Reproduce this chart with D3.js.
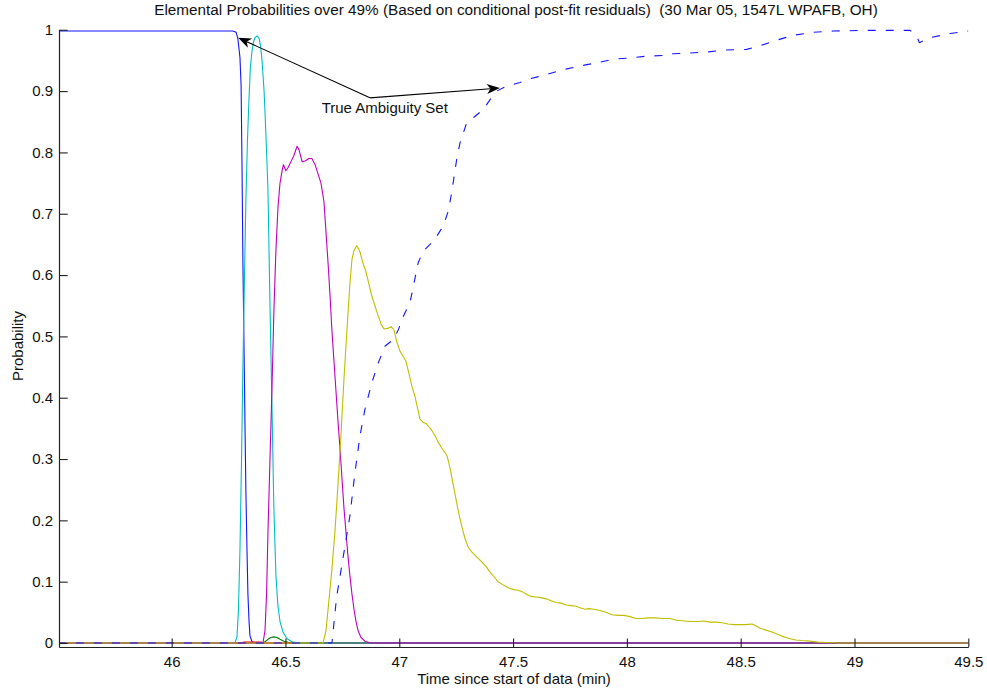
<!DOCTYPE html>
<html><head><meta charset="utf-8">
<script src="https://cdn.jsdelivr.net/npm/d3@7"></script>
<style>
body{margin:0;background:#fff;}
svg{display:block;font-family:"Liberation Sans",Arial,Helvetica,sans-serif;}
text{white-space:pre;}
</style>
</head><body><svg id="chart" width="987" height="691"></svg>
<script>
// ---------------- DATA ----------------
const chartTitle = "Elemental Probabilities over 49% (Based on conditional post-fit residuals)  (30 Mar 05, 1547L WPAFB, OH)";
const xAxisTitle = "Time since start of data (min)";
const yAxisTitle = "Probability";
const xTickValues = [46, 46.5, 47, 47.5, 48, 48.5, 49, 49.5];
const xTickLabels = ["46", "46.5", "47", "47.5", "48", "48.5", "49", "49.5"];
const yTickValues = [0, 0.1, 0.2, 0.3, 0.4, 0.5, 0.6, 0.7, 0.8, 0.9, 1];
const yTickLabels = ["0", "0.1", "0.2", "0.3", "0.4", "0.5", "0.6", "0.7", "0.8", "0.9", "1"];

// set 1 (blue, solid)
const set1T = [45.5, 46.269, 46.283, 46.291, 46.300, 46.305, 46.309, 46.313, 46.318, 46.322, 46.326, 46.331, 46.335, 46.340, 46.344, 46.353, 46.37, 49.5];
const set1P = [0.998, 0.998, 0.996, 0.985, 0.955, 0.91, 0.78, 0.62, 0.48, 0.36, 0.25, 0.15, 0.08, 0.035, 0.012, 0.002, 0, 0];
// set 2 (green)
const set2T = [45.5, 46.397, 46.410, 46.423, 46.436, 46.449, 46.463, 46.476, 46.493, 46.511, 46.529, 49.5];
const set2P = [0, 0, 0.002, 0.006, 0.009, 0.010, 0.009, 0.006, 0.003, 0.001, 0, 0];
// set 3 (red)
const set3T = [45.5, 46.31, 46.315, 46.395, 46.40, 49.5];
const set3P = [0, 0, 0.0015, 0.0015, 0, 0];
// set 4 (cyan)
const set4T = [45.5, 46.278, 46.287, 46.293, 46.300, 46.307, 46.313, 46.320, 46.326, 46.333, 46.340, 46.346, 46.353, 46.359, 46.366, 46.375, 46.384, 46.390, 46.397, 46.406, 46.414, 46.423, 46.432, 46.441, 46.449, 46.458, 46.467, 46.476, 46.489, 46.507, 46.529, 46.555, 49.5];
const set4P = [0, 0, 0.01, 0.05, 0.15, 0.30, 0.45, 0.60, 0.72, 0.82, 0.89, 0.94, 0.965, 0.98, 0.987, 0.99, 0.986, 0.975, 0.95, 0.90, 0.83, 0.74, 0.55, 0.38, 0.22, 0.11, 0.06, 0.035, 0.018, 0.007, 0.002, 0, 0];
// set 5 (magenta)
const set5T = [45.5, 46.401, 46.410, 46.417, 46.423, 46.432, 46.441, 46.449, 46.458, 46.467, 46.476, 46.485, 46.491, 46.502, 46.511, 46.524, 46.537, 46.551, 46.559, 46.573, 46.586, 46.603, 46.616, 46.630, 46.643, 46.656, 46.669, 46.678, 46.687, 46.696, 46.704, 46.713, 46.722, 46.731, 46.739, 46.748, 46.757, 46.766, 46.775, 46.783, 46.792, 46.801, 46.810, 46.819, 46.832, 46.849, 46.871, 46.893, 49.5];
const set5P = [0, 0, 0.02, 0.08, 0.18, 0.30, 0.42, 0.54, 0.64, 0.71, 0.75, 0.77, 0.78, 0.77, 0.775, 0.785, 0.795, 0.81, 0.805, 0.785, 0.786, 0.79, 0.79, 0.78, 0.765, 0.75, 0.72, 0.67, 0.62, 0.565, 0.51, 0.46, 0.41, 0.36, 0.32, 0.27, 0.22, 0.18, 0.14, 0.11, 0.08, 0.055, 0.035, 0.02, 0.009, 0.003, 0.0005, 0, 0];
// set 6 (yellow)
const set6T = [45.5, 46.665, 46.678, 46.691, 46.704, 46.717, 46.731, 46.744, 46.757, 46.770, 46.783, 46.792, 46.801, 46.814, 46.827, 46.840, 46.854, 46.867, 46.880, 46.893, 46.906, 46.920, 46.933, 46.950, 46.964, 46.977, 46.990, 47.003, 47.016, 47.029, 47.042, 47.056, 47.069, 47.082, 47.091, 47.104, 47.117, 47.130, 47.144, 47.157, 47.170, 47.183, 47.196, 47.210, 47.223, 47.236, 47.249, 47.262, 47.276, 47.289, 47.302, 47.315, 47.328, 47.341, 47.355, 47.368, 47.381, 47.394, 47.407, 47.421, 47.434, 47.451, 47.469, 47.486, 47.504, 47.522, 47.543, 47.561, 47.579, 47.601, 47.623, 47.645, 47.667, 47.689, 47.711, 47.733, 47.754, 47.776, 47.798, 47.816, 47.833, 47.855, 47.882, 47.908, 47.934, 47.961, 47.987, 48.014, 48.040, 48.066, 48.093, 48.124, 48.154, 48.189, 48.220, 48.251, 48.282, 48.312, 48.339, 48.365, 48.392, 48.418, 48.444, 48.471, 48.497, 48.523, 48.550, 48.567, 48.585, 48.611, 48.638, 48.664, 48.690, 48.717, 48.743, 48.769, 48.804, 48.839, 48.875, 48.910, 48.936, 49.5];
const set6P = [0, 0, 0.02, 0.07, 0.12, 0.18, 0.26, 0.34, 0.43, 0.51, 0.585, 0.625, 0.64, 0.648, 0.638, 0.62, 0.605, 0.585, 0.565, 0.55, 0.535, 0.52, 0.512, 0.513, 0.516, 0.51, 0.49, 0.476, 0.468, 0.46, 0.44, 0.418, 0.402, 0.38, 0.365, 0.36, 0.358, 0.353, 0.346, 0.338, 0.328, 0.32, 0.313, 0.305, 0.285, 0.26, 0.235, 0.21, 0.188, 0.17, 0.157, 0.15, 0.145, 0.14, 0.135, 0.13, 0.125, 0.118, 0.112, 0.106, 0.1, 0.096, 0.092, 0.089, 0.087, 0.086, 0.083, 0.079, 0.076, 0.075, 0.074, 0.072, 0.069, 0.066, 0.065, 0.062, 0.061, 0.06, 0.057, 0.055, 0.056, 0.055, 0.053, 0.05, 0.046, 0.045, 0.045, 0.043, 0.04, 0.04, 0.041, 0.041, 0.04, 0.04, 0.037, 0.036, 0.035, 0.035, 0.036, 0.034, 0.034, 0.033, 0.031, 0.03, 0.03, 0.03, 0.031, 0.028, 0.024, 0.021, 0.018, 0.014, 0.01, 0.007, 0.005, 0.004, 0.003, 0.0015, 0.0008, 0.0003, 0, 0];
// true ambiguity set (blue, dashed)
const trueT = [45.5, 46.704, 46.725, 46.754, 46.783, 46.805, 46.827, 46.849, 46.879, 46.908, 46.937, 46.974, 46.996, 47.018, 47.047, 47.062, 47.083, 47.105, 47.149, 47.164, 47.193, 47.215, 47.230, 47.252, 47.267, 47.296, 47.333, 47.369, 47.399, 47.428, 47.472, 47.530, 47.574, 47.648, 47.721, 47.794, 47.867, 47.940, 48.014, 48.087, 48.160, 48.204, 48.277, 48.358, 48.438, 48.526, 48.585, 48.658, 48.731, 48.819, 48.907, 49.054, 49.244, 49.273, 49.285, 49.332, 49.420, 49.5];
const trueP = [0, 0, 0.076, 0.141, 0.207, 0.277, 0.337, 0.381, 0.424, 0.457, 0.484, 0.495, 0.511, 0.533, 0.555, 0.582, 0.62, 0.639, 0.655, 0.663, 0.68, 0.704, 0.734, 0.788, 0.816, 0.848, 0.859, 0.87, 0.886, 0.9, 0.908, 0.914, 0.92, 0.927, 0.935, 0.941, 0.946, 0.952, 0.954, 0.957, 0.958, 0.961, 0.962, 0.964, 0.967, 0.968, 0.974, 0.983, 0.991, 0.996, 0.998, 0.999, 0.999, 0.99, 0.979, 0.987, 0.994, 0.998];

const seriesNames = ["set1", "set2", "set3", "set4", "set5", "set6", "trueSet"];
const seriesTimes = [set1T, set2T, set3T, set4T, set5T, set6T, trueT];
const seriesProbs = [set1P, set2P, set3P, set4P, set5P, set6P, trueP];
const seriesColors = ["#1414ff", "#008000", "#ff0000", "#00bfbf", "#bf00bf", "#bfbf00", "#1414ff"];
const seriesDashed = [false, false, false, false, false, false, true];

// annotation (data units)
const annotationText = "True Ambiguity Set";
const annotationTextPos = [46.659, 0.865];
const annotationOrigin = [46.871, 0.889];
const annotationTargets = [[46.292, 0.987], [47.442, 0.905]];

// ---------------- CHART ----------------
(function () {
  const svg = d3.select("#chart");
  const W = 987, H = 691;
  const mL = 59, mR = 968.3, mT = 29.77, mB = 647;
  const fontSize = 15;

  const x = d3.scaleLinear().domain([45.505, 49.5]).range([mL, mR]);
  const y = d3.scaleLinear().domain([-0.006523, 1]).range([mB, mT]);

  svg.append("rect").attr("width", W).attr("height", H).attr("fill", "#fff");

  svg.append("defs").append("clipPath").attr("id", "plotclip")
    .append("rect").attr("x", mL).attr("y", mT - 5).attr("width", mR - mL).attr("height", mB - mT + 5);

  const line = d3.line().x(d => x(d[0])).y(d => y(d[1]));
  const gLines = svg.append("g").attr("clip-path", "url(#plotclip)");
  seriesNames.forEach((name, i) => {
    const pts = seriesTimes[i].map((t, j) => [t, seriesProbs[i][j]]);
    gLines.append("path")
      .datum(pts)
      .attr("d", line)
      .attr("fill", "none")
      .attr("stroke", seriesColors[i])
      .attr("stroke-width", 1.1)
      .attr("stroke-dasharray", seriesDashed[i] ? "8,10" : null)
      .attr("stroke-linejoin", "round");
  });

  const yAxis = d3.axisLeft(y).tickValues(yTickValues)
    .tickFormat((d, i) => yTickLabels[i]).tickSizeInner(-8.7).tickSizeOuter(0).tickPadding(6);
  const gy = svg.append("g").attr("transform", `translate(${mL},0)`).call(yAxis);
  const xAxis = d3.axisBottom(x).tickValues(xTickValues)
    .tickFormat((d, i) => xTickLabels[i]).tickSizeInner(-8.5).tickSizeOuter(0).tickPadding(9);
  const gx = svg.append("g").attr("transform", `translate(0,${mB})`).call(xAxis);
  [gx, gy].forEach(g => {
    g.selectAll("path.domain").attr("stroke", "#222").attr("stroke-width", 1.2);
    g.selectAll(".tick line").attr("stroke", "#222").attr("stroke-width", 1.1);
    g.selectAll(".tick text").attr("fill", "#111").attr("font-size", fontSize)
      .attr("font-family", '"Liberation Sans",Arial,sans-serif');
  });

  svg.append("text").attr("x", 516).attr("y", 15).attr("text-anchor", "middle")
    .attr("font-size", 15.3).attr("fill", "#111").text(chartTitle);
  svg.append("text").attr("x", 514).attr("y", 684).attr("text-anchor", "middle")
    .attr("font-size", fontSize).attr("fill", "#111").text(xAxisTitle);
  svg.append("text").attr("transform", "translate(22.5,346) rotate(-90)").attr("text-anchor", "middle")
    .attr("font-size", fontSize).attr("fill", "#111").text(yAxisTitle);

  const ox = x(annotationOrigin[0]), oy = y(annotationOrigin[1]);
  annotationTargets.forEach(tg => {
    const tx = x(tg[0]), ty = y(tg[1]);
    const a = Math.atan2(ty - oy, tx - ox);
    const dx = Math.cos(a), dy = Math.sin(a);
    const L = 13, Wd = 5, notch = 3.5;
    const bx = tx - L * dx, by = ty - L * dy;
    const nx = tx - (L - notch) * dx, ny = ty - (L - notch) * dy;
    svg.append("line").attr("x1", ox).attr("y1", oy).attr("x2", nx).attr("y2", ny)
      .attr("stroke", "#000").attr("stroke-width", 1.1);
    const pts = [[tx, ty], [bx - Wd * dy, by + Wd * dx], [nx, ny], [bx + Wd * dy, by - Wd * dx]];
    svg.append("polygon").attr("points", pts.map(p => p.join(",")).join(" ")).attr("fill", "#000");
  });
  svg.append("text").attr("x", x(annotationTextPos[0])).attr("y", y(annotationTextPos[1]))
    .attr("font-size", fontSize).attr("fill", "#111").text(annotationText);
})();
</script>
</body></html>
